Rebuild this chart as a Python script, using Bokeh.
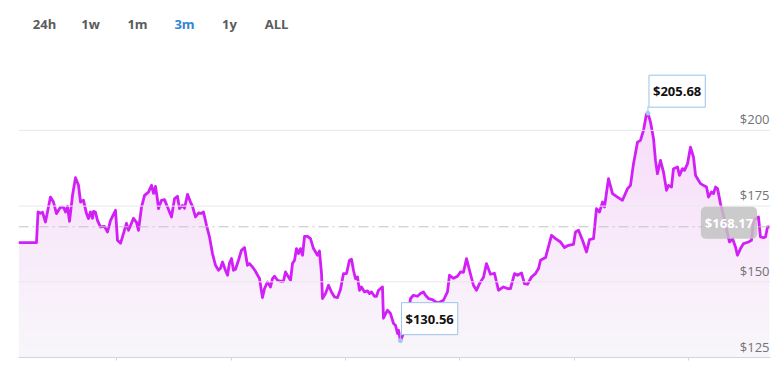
import numpy as np
from bokeh.plotting import figure
from bokeh.models import Range1d, Span, Label, FixedTicker, LinearAxis
from bokeh.embed import file_html
from bokeh.resources import INLINE
from bokeh.core.properties import value

# ---------------- data (3-month price history, x = days since start) ----------------
days = [
    0, 2.20, 2.39, 2.69, 2.94, 3.30, 3.91, 4.28, 4.65, 5.14, 5.51, 5.75, 5.99, 6.24, 6.61, 6.97,
    7.34, 7.59, 7.95, 8.32, 8.56, 8.81, 9.05, 9.18, 9.42, 9.66, 10.03, 10.52, 10.89, 11.26, 11.87,
    12.11, 12.48, 12.85, 13.21, 13.46, 13.82, 14.07, 14.44, 14.68, 15.05, 15.42, 15.90, 16.27,
    16.52, 16.76, 17.01, 17.13, 17.49, 17.86, 18.23, 18.72, 19.09, 19.45, 19.70, 20.06, 20.31,
    20.68, 21.04, 21.29, 21.65, 22.02, 22.39, 22.63, 23.00, 23.37, 23.73, 24.10, 24.47, 24.71,
    24.96, 25.32, 25.57, 25.81, 26.06, 26.30, 26.55, 26.91, 27.28, 27.65, 28.01, 28.26, 28.63,
    28.99, 29.36, 29.48, 29.85, 30.10, 30.46, 30.83, 31.07, 31.32, 31.69, 32.05, 32.42, 32.66,
    33.03, 33.28, 33.52, 33.77, 34.01, 34.26, 34.50, 34.75, 34.99, 35.36, 35.72, 36.09, 36.58,
    36.82, 37.07, 37.19, 37.56, 37.93, 38.29, 38.66, 39.03, 39.39, 39.76, 40.13, 40.49, 40.74,
    40.98, 41.23, 41.47, 41.72, 41.96, 42.33, 42.70, 42.94, 43.19, 43.55, 43.80, 44.04, 44.53,
    44.65, 45.14, 45.51, 45.88, 46.12, 46.37, 46.49, 46.73, 47.10, 47.59, 47.96, 48.32, 48.81,
    49.18, 49.55, 49.79, 50.16, 50.65, 51.26, 51.99, 52.48, 52.73, 53.22, 53.71, 54.07, 54.44,
    54.81, 55.30, 55.66, 56.03, 56.40, 56.89, 57.25, 57.74, 58.23, 58.72, 59.33, 59.82, 60.19,
    60.68, 61.05, 61.54, 61.90, 62.27, 62.76, 63.25, 63.62, 63.86, 64.48, 65.21, 65.70, 66.31,
    66.80, 67.29, 67.90, 68.14, 68.51, 69.00, 69.49, 69.86, 70.35, 70.71, 71.08, 71.45, 71.69,
    72.18, 72.67, 73.28, 73.89, 74.51, 74.87, 75.24, 75.73, 76.09, 76.46, 76.83, 77.01, 77.32,
    77.69, 77.93, 78.17, 78.54, 78.91, 79.28, 79.52, 79.89, 80.13, 80.62, 80.87, 81.23, 81.48,
    81.85, 82.21, 82.58, 82.83, 83.07, 83.44, 83.80, 84.17, 84.41, 84.78, 85.03, 85.27, 85.52,
    85.88, 86.25, 86.74, 86.98, 87.35, 87.72, 87.96, 88.33, 88.70, 89.31, 89.67, 89.92, 90.53,
    90.77, 91.14, 91.39, 91.63, 91.88,
]
prices = [
    162.95, 162.95, 173.05, 172.62, 172.95, 169.75, 177.99, 176.34, 172.52, 174.69, 174.60, 173.05,
    174.93, 169.98, 178.56, 184.39, 181.85, 176.34, 176.91, 172.52, 170.87, 173.05, 170.97, 173.28,
    172.95, 170.31, 168.10, 168.33, 166.45, 170.31, 173.61, 163.71, 162.72, 166.02, 169.32, 167.01,
    169.32, 170.97, 169.65, 167.01, 174.69, 178.56, 179.64, 181.85, 179.21, 181.52, 176.91, 174.17,
    176.91, 177.14, 174.69, 171.40, 177.47, 178.23, 174.17, 175.26, 174.27, 178.88, 176.34, 174.93,
    171.40, 172.72, 172.62, 173.05, 168.66, 164.80, 159.32, 155.46, 153.81, 154.47, 156.55, 153.81,
    152.16, 156.22, 157.67, 153.81, 154.14, 157.11, 160.41, 161.30, 155.46, 156.02, 154.90, 153.48,
    151.60, 151.17, 144.80, 147.77, 149.95, 148.30, 151.07, 151.83, 150.51, 150.18, 150.18, 153.25,
    151.60, 150.51, 156.02, 157.11, 160.97, 159.32, 160.97, 158.76, 165.03, 165.03, 164.27, 160.97,
    158.76, 160.18, 152.72, 144.47, 146.12, 148.86, 146.65, 145.00, 144.80, 147.44, 152.72, 152.72,
    157.11, 157.44, 153.81, 151.07, 151.60, 147.21, 148.30, 146.65, 146.98, 146.12, 146.65, 145.23,
    145.23, 147.21, 148.30, 137.97, 140.61, 139.52, 136.23, 135.66, 132.93, 134.02, 130.56, 132.93,
    137.31, 144.47, 145.56, 145.23, 146.12, 146.65, 145.56, 144.47, 144.14, 142.92, 143.91, 146.65,
    152.16, 151.17, 151.83, 153.25, 153.15, 157.67, 152.49, 148.86, 147.21, 149.42, 151.50, 156.02,
    152.49, 152.82, 147.21, 148.30, 147.77, 147.77, 152.72, 152.16, 152.92, 149.42, 149.19, 151.60,
    152.72, 154.37, 157.11, 158.00, 165.36, 164.27, 163.15, 161.30, 162.06, 162.39, 166.45, 167.01,
    163.71, 159.85, 163.94, 164.27, 174.17, 173.05, 176.34, 174.69, 184.06, 179.12, 177.99, 176.91,
    180.77, 181.85, 189.01, 196.14, 196.70, 200.00, 205.51, 205.68, 202.74, 197.26, 190.10, 185.71,
    190.10, 186.24, 180.20, 181.85, 181.29, 187.36, 187.89, 185.15, 187.36, 186.80, 189.01, 194.49,
    191.19, 185.15, 184.06, 182.42, 181.85, 181.29, 177.99, 179.64, 179.12, 181.29, 180.77, 175.82,
    171.96, 165.92, 163.15, 164.27, 161.50, 158.76, 160.97, 162.62, 163.15, 163.71, 170.31, 171.40,
    164.80, 164.60, 164.80, 168.10, 168.17,
]
y_ticks = [125, 150, 175, 200]
x_ticks = [12, 26, 40, 54, 68, 82]
tabs = ["24h", "1w", "1m", "3m", "1y", "ALL"]
active_tab = "3m"
current_price = 168.17
high_day, high_price = 77.01, 205.68
low_day, low_price = 46.73, 130.56

# ---------------- layout / style ----------------
W, H = 776, 377
LEFT, RIGHT, TOP, BOTTOM = 18, 6, 0, 20
X_MAX = 92
Y_MIN, Y_MAX = 125, 242.9
FRAME_W = W - LEFT - RIGHT
FRAME_H = H - TOP - BOTTOM
PX_PER_Y = FRAME_H / (Y_MAX - Y_MIN)


def dx(px):
    return (px - LEFT) / FRAME_W * X_MAX


def dy(py):
    return Y_MIN + (TOP + FRAME_H - py) / PX_PER_Y


LINE_COLOR = "#d21ff7"
FONT_NAME = "Open Sans"

p = figure(width=W, height=H, x_range=Range1d(0, X_MAX), y_range=Range1d(Y_MIN, Y_MAX),
           output_backend="svg", toolbar_location=None, x_axis_type=None, y_axis_type=None,
           min_border_left=LEFT, min_border_right=RIGHT, min_border_top=TOP,
           min_border_bottom=BOTTOM)
p.outline_line_color = None
p.background_fill_color = "white"
p.border_fill_color = "white"

# bottom axis (line + small ticks, no labels)
xa = LinearAxis(ticker=FixedTicker(ticks=x_ticks))
xa.axis_line_color = "#d5d5d5"
xa.major_tick_line_color = "#d5d5d5"
xa.major_tick_out = 3
xa.major_tick_in = 0
xa.minor_tick_out = 0
xa.minor_tick_in = 0
xa.major_label_standoff = 0
xa.major_label_overrides = {t: "" for t in x_ticks}
p.add_layout(xa, "below")

# gradient area fill (stronger towards the top)
p.varea(x=days, y1=Y_MIN, y2=prices, fill_color="#f8f7fa", fill_alpha=1.0)
parr = np.array(prices)
for lvl in np.arange(Y_MIN, 207, 3):
    p.varea(x=days, y1=lvl, y2=np.maximum(parr, lvl), fill_color="#c22ee8", fill_alpha=0.0045)

# gridlines
for t in y_ticks[1:]:
    p.add_layout(Span(location=t, dimension="width", line_color="#e9e9e9", line_width=1))

# current price dashed line
p.add_layout(Span(location=current_price, dimension="width", line_color="#c4c4c4",
                  line_width=1, line_dash="10 4 2 4"))

# price line
p.line(days, prices, line_color=LINE_COLOR, line_width=2.8, line_join="round")

# right-side tick labels inside plot
p.text(x=[X_MAX] * len(y_ticks), y=y_ticks, text=[f"${t}" for t in y_ticks],
       text_align="right", text_baseline="bottom", x_offset=-1, y_offset=-2,
       text_font=value(FONT_NAME), text_font_size="13px", text_color="#737373")

# high / low markers
p.segment(x0=[high_day, low_day], y0=[high_price, low_price],
          x1=[high_day, low_day], y1=[high_price + 7 / PX_PER_Y, low_price + 7 / PX_PER_Y],
          line_color="#9cc3ea", line_width=1)
p.scatter([high_day, low_day], [high_price, low_price], size=4, color="#a9c6f0")

for d, v in [(high_day, high_price), (low_day, low_price)]:
    p.add_layout(Label(x=d, y=v, text=f"${v:.2f}", text_align="left", text_baseline="middle",
                       x_offset=1, y_offset=22, text_font=FONT_NAME, text_font_size="13px",
                       text_font_style="bold", text_color="#111111",
                       background_fill_color="white", background_fill_alpha=1.0,
                       border_line_color="#9cc3ea", border_line_width=1, padding=(4, 7)))

# current price badge
p.add_layout(Label(x=dx(728.5), y=current_price, text=f"${current_price:.2f}",
                   text_align="center", text_baseline="middle", y_offset=4,
                   text_font=FONT_NAME, text_font_size="13px", text_font_style="bold",
                   text_color="white", background_fill_color="#c2c2c2",
                   background_fill_alpha=0.85, border_radius=5, padding=(4, 7)))

# range tabs
tab_px = [44, 90, 137, 184, 229, 276]
for name, px in zip(tabs, tab_px):
    p.add_layout(Label(x=dx(px), y=dy(23), text=name, text_align="center",
                       text_baseline="middle", text_font=FONT_NAME, text_font_size="13px",
                       text_font_style="bold",
                       text_color="#2f86d1" if name == active_tab else "#5b5b5b"))

open("out.html", "w").write(file_html(p, INLINE))
